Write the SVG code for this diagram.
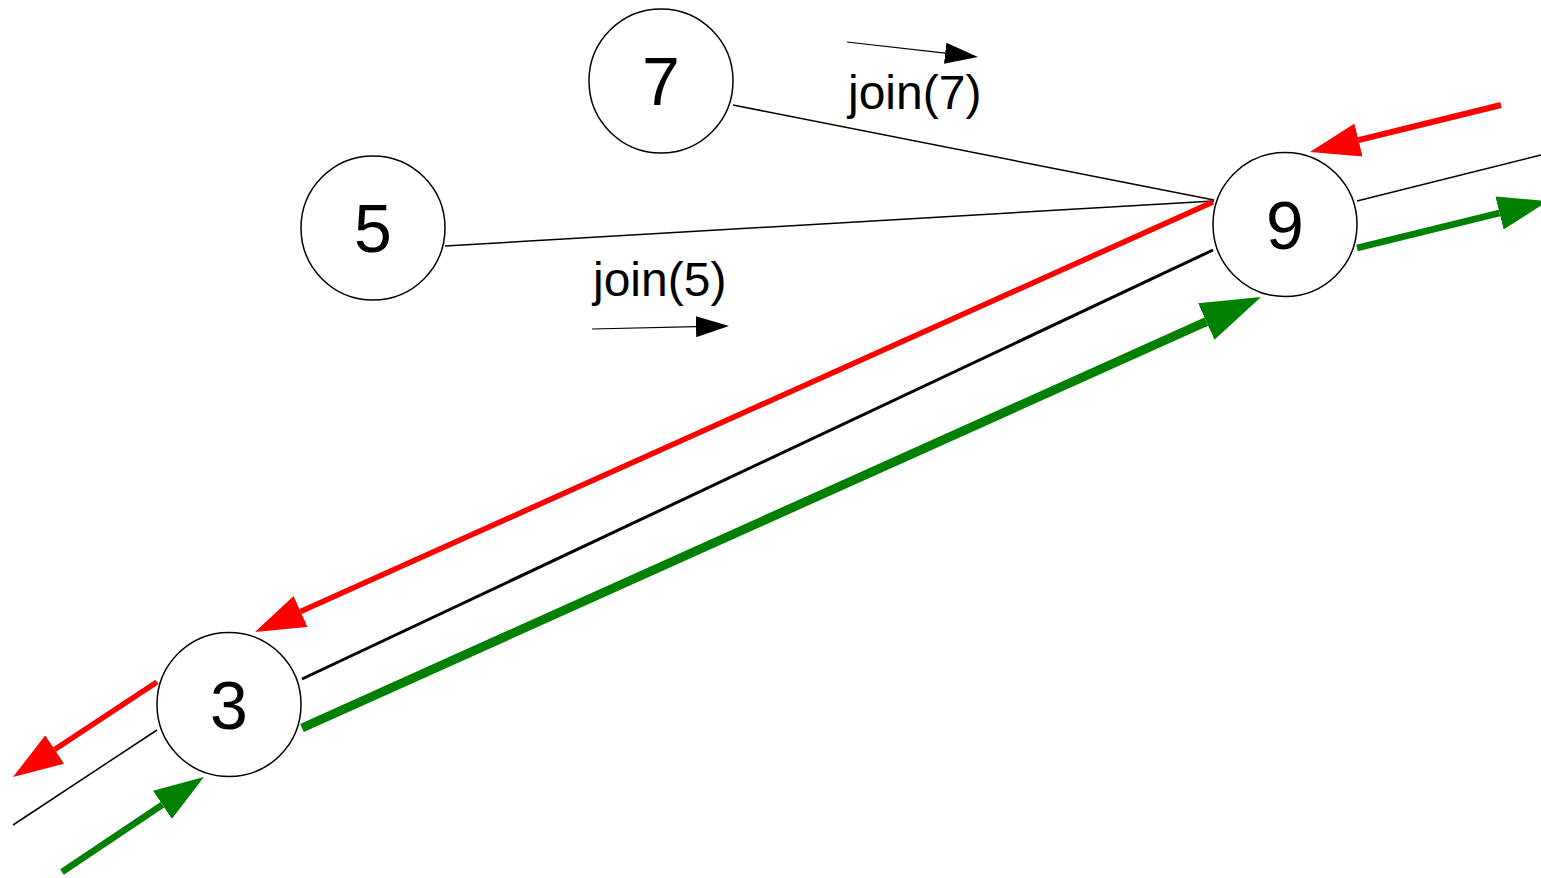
<svg xmlns="http://www.w3.org/2000/svg" width="1541" height="878" viewBox="0 0 1541 878">
<style>
.node circle{fill:#fff;stroke:#000;stroke-width:1.5}
.node text{font-family:"Liberation Sans",Arial,sans-serif;font-size:68px;text-anchor:middle;fill:#000}
.lbl{font-family:"Liberation Sans",Arial,sans-serif;font-size:48px;fill:#000}
.thin{stroke:#000;stroke-width:1.5;fill:none}
.mid{stroke:#000;stroke-width:3;fill:none}
.red{stroke:#f00;fill:none;marker-end:url(#headR)}
.green{stroke:#008000;fill:none;marker-end:url(#headG)}
.small{stroke:#000;stroke-width:1.2;fill:none;marker-end:url(#headK)}
</style>
<defs>
<marker id="headR" viewBox="0 0 50 34" refX="0" refY="17" markerWidth="50" markerHeight="34" markerUnits="userSpaceOnUse" orient="auto"><path d="M0,0 L50,17 L0,34 z" fill="#f00"/></marker>
<marker id="headG" viewBox="0 0 50 34" refX="0" refY="17" markerWidth="50" markerHeight="34" markerUnits="userSpaceOnUse" orient="auto"><path d="M0,0 L50,17 L0,34 z" fill="#008000"/></marker>
<marker id="headGL" viewBox="0 0 60 40" refX="0" refY="20" markerWidth="60" markerHeight="40" markerUnits="userSpaceOnUse" orient="auto"><path d="M0,0 L60,20 L0,40 z" fill="#008000"/></marker>
<marker id="headK" viewBox="0 0 33 21" refX="0" refY="10.5" markerWidth="33" markerHeight="21" markerUnits="userSpaceOnUse" orient="auto"><path d="M0,0 L33,10.5 L0,21 z" fill="#000"/></marker>
</defs>
<rect width="1541" height="878" fill="#fff"/>
<g id="connectors">
<line class="thin" x1="733" y1="105" x2="1214" y2="200"/>
<line class="thin" x1="445" y1="246" x2="1214" y2="201"/>
<line class="mid" x1="302" y1="679" x2="1213" y2="250"/>
<line class="thin" x1="1357" y1="201" x2="1541" y2="155"/>
<line class="thin" x1="157" y1="730" x2="13" y2="825"/>
<line class="red" stroke-width="5.5" x1="1213" y1="202" x2="300.6" y2="611.5"/>
<line class="red" stroke-width="6" x1="1501" y1="105" x2="1358.5" y2="140.1"/>
<line class="red" stroke-width="5.5" x1="157" y1="682" x2="54.7" y2="749.5"/>
<line class="green" stroke-width="9" x1="302" y1="728" x2="1206.3" y2="321.6" style="marker-end:url(#headGL)"/>
<line class="green" stroke-width="6.5" x1="1357" y1="248" x2="1499.5" y2="213"/>
<line class="green" stroke-width="6.5" x1="62" y1="872" x2="162.4" y2="804.8"/>
<line class="small" x1="847" y1="42" x2="945.2" y2="53.2"/>
<line class="small" x1="592" y1="329" x2="696" y2="326.7"/>
</g>
<g id="node7" class="node"><circle cx="661" cy="81" r="72"/><text x="661" y="105">7</text></g>
<g id="node5" class="node"><circle cx="373" cy="228" r="72"/><text x="373" y="252">5</text></g>
<g id="node9" class="node"><circle cx="1285" cy="224.5" r="72"/><text x="1285" y="248.5">9</text></g>
<g id="node3" class="node"><circle cx="229" cy="704.5" r="72"/><text x="229" y="728.5">3</text></g>
<g id="labels">
<text class="lbl" x="848" y="109">join(7)</text>
<text class="lbl" x="593" y="296">join(5)</text>
</g>
</svg>
